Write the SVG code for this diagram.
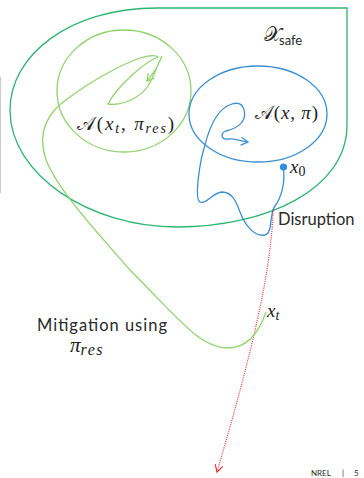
<svg xmlns="http://www.w3.org/2000/svg" width="364" height="478" viewBox="0 0 364 478">
  <style>
    .safe { fill: none; stroke: #2db572; stroke-width: 1.3; }
    .res { fill: none; stroke: #8fd36c; stroke-width: 1.3; }
    .nom { fill: none; stroke: #3a8fd2; stroke-width: 1.3; }
    .dis { fill: none; stroke: #e5323d; stroke-width: 1.2; stroke-dasharray: 1 1.2; }
    .math { font-family: "Liberation Serif", "DejaVu Serif", serif; fill: #222; }
    .it { font-style: italic; }
    .sans { font-family: Lato, "Open Sans", "Liberation Sans", sans-serif; fill: #2a2a2a; }
  </style>
  <defs>
    <marker id="arrowBlue" viewBox="-10 -6 12 12" refX="0" refY="0" markerWidth="12" markerHeight="12" markerUnits="userSpaceOnUse" orient="auto">
      <path d="M-7,-4 L0,0 L-7,4" fill="none" stroke="#3a8fd2" stroke-width="1.3"/>
    </marker>
    <marker id="arrowGreen" viewBox="-10 -6 12 12" refX="0" refY="0" markerWidth="12" markerHeight="12" markerUnits="userSpaceOnUse" orient="auto">
      <path d="M-7,-4 L0,0 L-7,4" fill="none" stroke="#8fd36c" stroke-width="1.3"/>
    </marker>
    <marker id="arrowRed" viewBox="-10 -6 12 12" refX="0" refY="0" markerWidth="12" markerHeight="12" markerUnits="userSpaceOnUse" orient="auto">
      <path d="M-7,-4 L0,0 L-7,4" fill="none" stroke="#e5323d" stroke-width="1.2"/>
    </marker>
  </defs>

  <rect width="364" height="478" fill="#ffffff"/>
  <line x1="0.6" y1="77" x2="0.6" y2="193" stroke="#c8c8c8" stroke-width="1"/>

  <!-- safe set -->
  <g id="safe-set">
    <path class="safe" d="M157,8 L347,8 L347,125 C347,190 265,227 177,227 C90,227 10,175 10,110 C10,55 70,8 157,8 Z"/>
    <text class="math" x="264" y="41" font-size="20">𝒳</text>
    <text class="sans" x="279" y="45" font-size="13">safe</text>
  </g>

  <!-- recovery attractor region -->
  <g id="region-res">
    <ellipse class="res" cx="124" cy="91" rx="67" ry="61"/>
    <text class="math" x="77" y="130" font-size="19" textLength="97" lengthAdjust="spacing">𝒜(<tspan class="it">x</tspan><tspan font-size="14" dy="3" class="it">t</tspan><tspan dy="-3">, </tspan><tspan class="it">π</tspan><tspan font-size="14" dy="3" class="it">res</tspan><tspan dy="-3">)</tspan></text>
  </g>

  <!-- nominal attractor region -->
  <g id="region-nom">
    <ellipse class="nom" cx="258" cy="114" rx="69" ry="48"/>
    <text class="math" x="255" y="119" font-size="19" textLength="63" lengthAdjust="spacing">𝒜(<tspan class="it">x</tspan>, <tspan class="it">π</tspan>)</text>
  </g>

  <!-- initial state -->
  <g id="start">
    <circle cx="283.5" cy="167" r="3.6" fill="#2f8ee0"/>
    <text class="math it" x="290" y="173" font-size="19">x<tspan font-size="14" dy="3" font-style="normal">0</tspan></text>
  </g>

  <g id="label-disruption">
    <text class="sans" x="278" y="225" font-size="16.5">Disruption</text>
  </g>

  <g id="label-xt">
    <text class="math it" x="267" y="317" font-size="19">x<tspan font-size="14" dy="3">t</tspan></text>
  </g>

  <g id="label-mitigation">
    <text class="sans" x="37" y="331" font-size="16.5" textLength="130" lengthAdjust="spacing">Mitigation using</text>
    <text class="math it" x="70" y="352" font-size="21">π<tspan font-size="16" dy="3" letter-spacing="1.5">res</tspan></text>
  </g>

  <g id="footer">
    <text class="sans" x="311" y="476" font-size="8" fill="#555">NREL</text>
    <text class="sans" x="342" y="476" font-size="8" fill="#555">|</text>
    <text class="sans" x="354" y="476" font-size="8" fill="#555">5</text>
  </g>

  <!-- trajectories -->
  <g id="connectors">
    <path class="nom" marker-end="url(#arrowBlue)" d="M283,167 C286,182 281,198 275,206 C269,214 273,233 265,235 C254,237 245,225 240,212 C236,201 232,192 222,192 C212,193 206,205 200,202 C194,199 200,160 205,145 C210,125 218,108 232,104 C245,100 247,115 242,122 C238,128 230,130 226,131 C220,133 221,140 228,139 C234,138 240,141 248,142"/>
    <path class="dis" marker-end="url(#arrowRed)" d="M273,209 C272,270 250,360 217,472"/>
    <path class="res" marker-end="url(#arrowGreen)" d="M266,312 C258,335 245,348 228,348 C200,348 180,320 130,270 C95,230 58,190 46,160 C36,130 50,110 70,97 C90,82 120,65 140,58 C150,55 156,55 158,57 C145,62 118,85 108,104 C122,106 140,98 148,86 C154,76 158,64 161,58 C163,54 160,60 157,67 C154,72 151,76 147,81"/>
  </g>
</svg>
